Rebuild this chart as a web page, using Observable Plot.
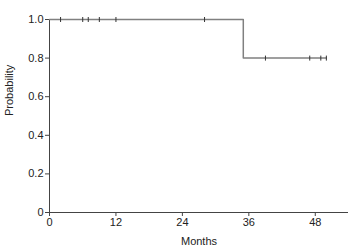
<!DOCTYPE html>
<html>
<head>
<meta charset="utf-8">
<script src="https://cdn.jsdelivr.net/npm/d3@7"></script>
<script src="https://cdn.jsdelivr.net/npm/@observablehq/plot@0.6"></script>
<style>
html,body{margin:0;padding:0;background:#fff;}
</style>
</head>
<body>
<div id="chart"></div>
<script>
// Kaplan-Meier step curve (time in months, survival probability)
const stepMonths = [0, 35, 50];
const stepProb = [1.0, 0.8, 0.8];
// Censored observations
const censorMonths = [2, 6, 7, 9, 12, 28, 39, 47, 49, 50];
const censorProb = [1.0, 1.0, 1.0, 1.0, 1.0, 1.0, 0.8, 0.8, 0.8, 0.8];
const xTicks = [0, 12, 24, 36, 48];
const yTicks = [0, 0.2, 0.4, 0.6, 0.8, 1.0];

const steps = stepMonths.map((m, i) => ({month: m, prob: stepProb[i]}));
const censors = censorMonths.map((m, i) => ({month: m, prob: censorProb[i]}));

const vbar = {draw(ctx, size) { ctx.moveTo(0, -2.5); ctx.lineTo(0, 2.5); }};

const chart = Plot.plot({
  width: 350,
  height: 251,
  marginLeft: 49,
  marginTop: 19,
  marginBottom: 39,
  marginRight: 2,
  style: {fontFamily: "'Liberation Sans', Arial, sans-serif", fontSize: "11px", color: "#222", background: "#fff"},
  x: {domain: [0, 54], label: null},
  y: {domain: [0, 1], label: null},
  marks: [
    Plot.ruleX([0], {stroke: "#444", strokeWidth: 1}),
    Plot.ruleY([0], {stroke: "#444", strokeWidth: 1}),
    Plot.axisX({ticks: xTicks, tickSize: 4, tickPadding: 2, stroke: "#444", label: null, tickFormat: d => String(d)}),
    Plot.axisY({ticks: yTicks, tickSize: 4, tickPadding: 2, stroke: "#444", label: null, tickFormat: d => d === 0 ? "0" : d.toFixed(1)}),
    Plot.text(["Months"], {frameAnchor: "bottom", dy: 32, fill: "#222"}),
    Plot.text(["Probability"], {frameAnchor: "left", dx: -40, rotate: -90, fill: "#222"}),
    Plot.line(steps, {x: "month", y: "prob", curve: "step-after", stroke: "#808080", strokeWidth: 1.5}),
    Plot.dot(censors, {x: "month", y: "prob", symbol: vbar, stroke: "#333", strokeWidth: 1, r: 3})
  ]
});
document.getElementById("chart").appendChild(chart);
</script>
</body>
</html>
